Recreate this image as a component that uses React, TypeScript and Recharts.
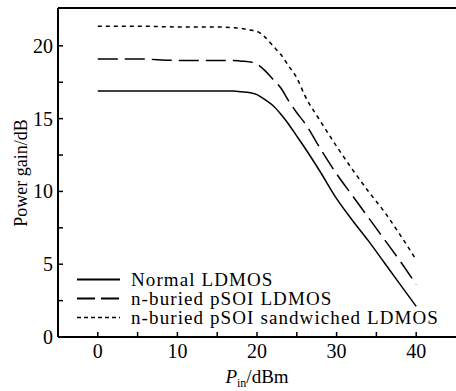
import React from "react";
import {
  LineChart,
  Line,
  XAxis,
  YAxis,
  ReferenceLine,
  Label,
} from "recharts";

/* Data */
const pinValues = [0, 5, 10, 15, 17, 18, 19, 20, 21, 22, 23, 24, 25, 26, 28, 30, 32, 34, 36, 38, 40];
const normalGain = [16.9, 16.9, 16.9, 16.9, 16.9, 16.85, 16.8, 16.65, 16.3, 15.9, 15.3, 14.6, 13.8, 13.0, 11.3, 9.5, 8.0, 6.6, 5.1, 3.6, 2.1];
const nBuriedGain = [19.1, 19.1, 19.0, 19.0, 19.0, 18.95, 18.9, 18.75, 18.3, 17.7, 17.1, 16.2, 15.4, 14.7, 12.9, 11.2, 9.7, 8.2, 6.7, 5.2, 3.6];
const sandwichedGain = [21.35, 21.35, 21.3, 21.3, 21.25, 21.2, 21.1, 21.0, 20.6, 20.0, 19.4, 18.6, 17.8, 16.6, 14.8, 13.1, 11.5, 10.0, 8.6, 7.0, 5.3];

const xTicks = [0, 5, 10, 15, 20, 25, 30, 35, 40];
const yTicks = [0, 2.5, 5, 7.5, 10, 12.5, 15, 17.5, 20];
const legendNames = ["Normal LDMOS", "n-buried pSOI LDMOS", "n-buried pSOI sandwiched LDMOS"];

const data = pinValues.map((p, i) => ({
  pin: p,
  normal: normalGain[i],
  nburied: nBuriedGain[i],
  sandwiched: sandwichedGain[i],
}));

const FONT = "'Liberation Serif', 'Times New Roman', serif";
const W = 456;
const H = 391;
const AXIS_X = 58;
const AXIS_Y = 337;
const Y_MAX = 22.6;

const dashes = ["", "18 6", "4 3"];

function YTick(props: any) {
  const { y, payload } = props;
  const v = payload.value;
  const major = v % 5 === 0;
  return (
    <g>
      <line x1={AXIS_X} x2={AXIS_X + 5} y1={y} y2={y} stroke="#000" strokeWidth={1.5} />
      {major && (
        <text x={AXIS_X - 5} y={y + 7} textAnchor="end" fontSize={20} fontFamily={FONT} fill="#000">
          {v}
        </text>
      )}
    </g>
  );
}

function XTick(props: any) {
  const { x, payload } = props;
  const v = payload.value;
  const major = v % 10 === 0;
  return (
    <g>
      <line x1={x} x2={x} y1={AXIS_Y} y2={AXIS_Y - 5} stroke="#000" strokeWidth={1.5} />
      {major && (
        <text x={x} y={AXIS_Y + 21} textAnchor="middle" fontSize={20} fontFamily={FONT} fill="#000">
          {v}
        </text>
      )}
    </g>
  );
}

function LegendBox() {
  return (
    <div
      style={{
        position: "absolute",
        left: 77,
        top: 270,
        fontFamily: FONT,
        fontSize: 19,
        letterSpacing: 1.1,
        color: "#000",
        lineHeight: "19px",
      }}
    >
      {legendNames.map((name, i) => (
        <div key={name} style={{ display: "flex", alignItems: "center", height: 19 }}>
          <svg width={44} height={19} style={{ marginRight: 10, display: "block" }}>
            <line
              x1={0}
              x2={43}
              y1={9.5}
              y2={9.5}
              stroke="#000"
              strokeWidth={i === 2 ? 1.5 : 2}
              strokeDasharray={dashes[i] || undefined}
            />
          </svg>
          <span style={{ whiteSpace: "nowrap" }}>{name}</span>
        </div>
      ))}
    </div>
  );
}

export default function App() {
  return (
    <div style={{ position: "absolute", left: 0, top: 0, width: W, height: H, background: "#fff" }}>
      <LineChart
        width={W}
        height={H}
        data={data}
        margin={{ top: 8, right: 0, left: 18, bottom: 24 }}
      >
        <XAxis
          dataKey="pin"
          type="number"
          domain={[-5, 45]}
          ticks={xTicks}
          tick={<XTick />}
          tickLine={false}
          axisLine={{ stroke: "#000", strokeWidth: 2 }}
          height={30}
          interval={0}
        >
          <Label
            content={() => (
              <text x={257} y={383} textAnchor="middle" fontSize={19} fontFamily={FONT} fill="#000">
                <tspan fontStyle="italic">P</tspan>
                <tspan fontSize={12} dy={4}>in</tspan>
                <tspan dy={-4}>/dBm</tspan>
              </text>
            )}
          />
        </XAxis>
        <YAxis
          type="number"
          domain={[0, Y_MAX]}
          ticks={yTicks}
          tick={<YTick />}
          tickLine={false}
          axisLine={{ stroke: "#000", strokeWidth: 2 }}
          width={40}
          interval={0}
        >
          <Label
            content={() => (
              <text
                x={27}
                y={173}
                textAnchor="middle"
                fontSize={18}
                fontFamily={FONT}
                fill="#000"
                transform="rotate(-90 27 173)"
              >
                Power gain/dB
              </text>
            )}
          />
        </YAxis>
        <ReferenceLine y={Y_MAX} stroke="#000" strokeWidth={2} />
        <Line
          dataKey="normal"
          type="monotone"
          stroke="#000"
          strokeWidth={1.5}
          dot={false}
          isAnimationActive={false}
        />
        <Line
          dataKey="nburied"
          type="monotone"
          stroke="#000"
          strokeWidth={1.5}
          strokeDasharray="20 7"
          dot={false}
          isAnimationActive={false}
        />
        <Line
          dataKey="sandwiched"
          type="monotone"
          stroke="#000"
          strokeWidth={1.5}
          strokeDasharray="4 4"
          dot={false}
          isAnimationActive={false}
        />
      </LineChart>
      <LegendBox />
    </div>
  );
}
